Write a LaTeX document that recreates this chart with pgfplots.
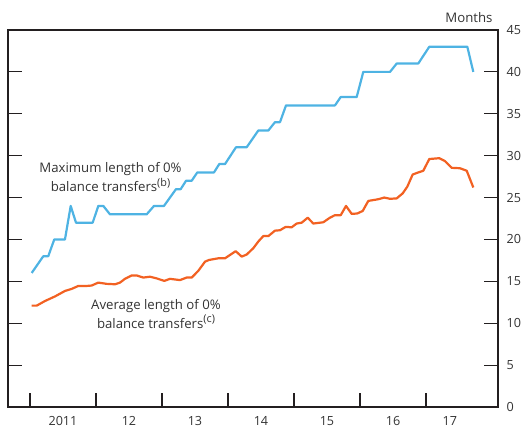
\documentclass[border=0pt]{standalone}
\usepackage{pgfplots}
\pgfplotsset{compat=1.18}
\usepackage{fontspec}
\setmainfont{Open Sans}
\usetikzlibrary{calc}
\definecolor{blueline}{HTML}{4EB3E3}
\definecolor{orangeline}{HTML}{F26122}
\definecolor{txt}{HTML}{333333}
\definecolor{axc}{HTML}{231F20}
\newcommand\supnote[1]{\raisebox{0.42em}{\fontsize{10.8bp}{10.8bp}\selectfont #1}}

\pgfplotstableread{
x y
2011.026 16
2011.202 18
2011.277 18
2011.368 20
2011.530 20
2011.617 24
2011.697 22
2011.950 22
2012.035 24
2012.111 24
2012.212 23
2012.768 23
2012.879 24
2013.030 24
2013.212 26
2013.283 26
2013.364 27
2013.450 27
2013.535 28
2013.788 28
2013.868 29
2013.955 29
2014.121 31
2014.283 31
2014.459 33
2014.611 33
2014.712 34
2014.788 34
2014.879 36
2015.621 36
2015.708 37
2015.950 37
2016.050 40
2016.455 40
2016.556 41
2016.883 41
2017.050 43
2017.626 43
2017.717 40
}\maxtable

\pgfplotstableread{
x y
2011.026 12.1
2011.102 12.1
2011.227 12.65
2011.379 13.2
2011.530 13.85
2011.632 14.1
2011.732 14.45
2011.859 14.45
2011.935 14.5
2012.035 14.85
2012.162 14.7
2012.288 14.65
2012.364 14.85
2012.439 15.3
2012.541 15.7
2012.617 15.7
2012.717 15.45
2012.818 15.55
2012.920 15.35
2013.035 15.05
2013.121 15.3
2013.273 15.15
2013.374 15.45
2013.450 15.45
2013.550 16.25
2013.652 17.35
2013.712 17.55
2013.853 17.75
2013.955 17.75
2014.030 18.15
2014.117 18.6
2014.208 17.95
2014.283 18.2
2014.383 18.95
2014.459 19.75
2014.535 20.4
2014.611 20.4
2014.712 21.05
2014.788 21.1
2014.874 21.5
2014.965 21.45
2015.041 21.9
2015.117 22.0
2015.208 22.6
2015.292 21.9
2015.444 22.05
2015.545 22.6
2015.621 22.9
2015.708 22.9
2015.788 24.0
2015.874 23.05
2015.959 23.1
2016.041 23.4
2016.126 24.6
2016.277 24.8
2016.368 25.0
2016.455 24.85
2016.556 24.9
2016.647 25.5
2016.717 26.3
2016.798 27.75
2016.883 28.0
2016.959 28.2
2017.050 29.6
2017.202 29.7
2017.288 29.35
2017.389 28.55
2017.515 28.5
2017.617 28.2
2017.717 26.2
}\avgtable

\begin{document}
\fontsize{13.2bp}{19bp}\selectfont
\begin{tikzpicture}
\begin{axis}[name=ax, scale only axis, width=490bp, height=377bp,
  xmin=2010.667, xmax=2018.091, ymin=0, ymax=45,
  axis line style={axc, line width=1.1bp},
  ytick={0,5,...,45}, ytick pos=both, yticklabel pos=right,
  xtick={2011.5,2012.5,2013.5,2014.5,2015.5,2016.5,2017.36},
  xticklabels={2011,12,13,14,15,16,17},
  minor xtick={2011,2012,...,2017},
  xtick pos=bottom,
  every major x tick/.append style={draw=none},
  major tick length=14bp, minor tick length=14bp,
  tick align=inside,
  tick style={axc, line width=1.1bp},
  ticklabel style={font=\fontsize{12.6bp}{14bp}\selectfont, text=txt},
  /pgf/number format/assume math mode=true,
  yticklabel style={xshift=4bp},
  xticklabel style={yshift=-5bp},
  clip=false,
]
\addplot[blueline, line width=2.2bp, line join=round] table[x=x,y=y] {\maxtable};
\addplot[orangeline, line width=2.2bp, line join=round] table[x=x,y=y] {\avgtable};
\node[text=txt, align=center, font=\fontsize{13.2bp}{19bp}\selectfont] at (axis cs:2012.22,27.4) {Maximum length of 0\%\\balance transfers\supnote{(b)}};
\node[text=txt, align=center, font=\fontsize{13.2bp}{19bp}\selectfont] at (axis cs:2012.909,11.1) {Average length of 0\%\\balance transfers\supnote{(c)}};
\node[text=txt, anchor=base east, font=\fontsize{13.2bp}{15bp}\selectfont] at ($(rel axis cs:1,1)+(-1bp,7bp)$) {Months};
\end{axis}
\pgfresetboundingbox
\path[use as bounding box] ($(ax.south west)+(-8bp,-23bp)$) rectangle ($(ax.north east)+(24bp,30bp)$);
\end{tikzpicture}
\end{document}
